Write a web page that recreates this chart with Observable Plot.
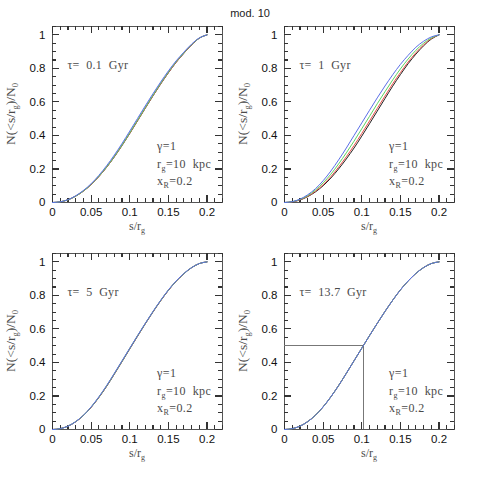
<!DOCTYPE html>
<html><head><meta charset="utf-8">
<script src="https://cdn.jsdelivr.net/npm/d3@7"></script>
<script src="https://cdn.jsdelivr.net/npm/@observablehq/plot@0.6"></script>
<style>
body{margin:0;background:#fff;width:479px;height:479px;position:relative;overflow:hidden}
#title{position:absolute;left:0;width:500px;top:7px;text-align:center;font:11px "Liberation Sans",Arial,sans-serif;color:#222}
.panel{position:absolute}
</style></head><body>
<div id="title">mod. 10</div>
<div id="p0" class="panel" style="left:0;top:0"></div>
<div id="p1" class="panel" style="left:232px;top:0"></div>
<div id="p2" class="panel" style="left:0;top:227px"></div>
<div id="p3" class="panel" style="left:232px;top:227px"></div>
<script>
// s/r_g sample positions
const sGrid = [0, 0.01, 0.02, 0.03, 0.04, 0.05, 0.06, 0.07, 0.08, 0.09, 0.10, 0.11, 0.12, 0.13, 0.14, 0.15, 0.16, 0.17, 0.18, 0.19, 0.20];

const panelTimes = ["0.1", "1", "5", "13.7"];
const seriesNames = ["black", "red", "green", "blue"];
const seriesColors = ["#222222", "#e8504a", "#5fd35f", "#5a6ee8"];

// tau = 0.1 Gyr
const t01_black = [0, .004, .016, .038, .068, .107, .155, .210, .272, .340, .412, .487, .562, .636, .707, .774, .836, .890, .940, .980, 1];
const t01_red   = [0, .004, .016, .038, .068, .107, .155, .210, .273, .341, .413, .488, .563, .637, .708, .775, .837, .891, .941, .981, 1];
const t01_green = [0, .004, .016, .038, .069, .108, .157, .212, .275, .343, .416, .491, .566, .640, .711, .778, .840, .893, .942, .981, 1];
const t01_blue  = [0, .004, .017, .040, .072, .112, .162, .219, .283, .352, .426, .501, .576, .649, .719, .785, .845, .897, .945, .982, 1];
// tau = 1 Gyr
const t1_black = [0, .004, .015, .035, .063, .100, .146, .200, .260, .325, .396, .470, .545, .620, .694, .763, .828, .885, .935, .975, 1];
const t1_red   = [0, .004, .016, .037, .067, .106, .154, .211, .273, .340, .412, .486, .561, .635, .708, .775, .838, .893, .940, .978, 1];
const t1_green = [0, .005, .018, .041, .074, .117, .169, .230, .296, .366, .440, .514, .589, .661, .731, .797, .856, .908, .950, .982, 1];
const t1_blue  = [0, .005, .020, .046, .082, .130, .188, .254, .325, .400, .475, .550, .624, .695, .762, .824, .878, .926, .962, .988, 1];
// tau = 5 Gyr
const t5_black = [0, .005, .020, .046, .083, .132, .191, .257, .330, .405, .481, .556, .630, .701, .768, .830, .884, .929, .965, .990, 1];
const t5_red   = [0, .005, .020, .046, .084, .133, .192, .259, .332, .407, .483, .558, .631, .702, .769, .831, .885, .930, .966, .990, 1];
const t5_green = [0, .005, .020, .047, .084, .134, .193, .260, .333, .408, .484, .559, .632, .703, .770, .832, .885, .930, .966, .990, 1];
const t5_blue  = [0, .005, .020, .047, .085, .135, .195, .262, .335, .410, .485, .560, .633, .704, .771, .833, .886, .931, .966, .990, 1];
// tau = 13.7 Gyr
const t137_black = [0, .005, .020, .047, .085, .135, .195, .262, .335, .410, .485, .560, .633, .704, .771, .833, .886, .931, .966, .990, 1];
const t137_red   = [0, .005, .020, .047, .085, .135, .195, .262, .335, .410, .485, .560, .633, .704, .771, .833, .886, .931, .966, .990, 1];
const t137_green = [0, .005, .020, .047, .085, .135, .195, .262, .335, .410, .485, .560, .633, .704, .771, .833, .886, .931, .966, .990, 1];
const t137_blue  = [0, .005, .020, .047, .085, .135, .195, .262, .335, .410, .485, .560, .633, .704, .771, .833, .886, .931, .966, .990, 1];

const panelSeries = [
  [t01_black, t01_red, t01_green, t01_blue],
  [t1_black, t1_red, t1_green, t1_blue],
  [t5_black, t5_red, t5_green, t5_blue],
  [t137_black, t137_red, t137_green, t137_blue]
];

// half-mass radius marked in the last panel
const halfMassS = 0.102;
const halfMassN = 0.5;

const xMajor = [0, 0.05, 0.1, 0.15, 0.2];
const xMinor = [0.01, 0.02, 0.03, 0.04, 0.06, 0.07, 0.08, 0.09, 0.11, 0.12, 0.13, 0.14, 0.16, 0.17, 0.18, 0.19, 0.21, 0.22];
const yMajor = [0, 0.2, 0.4, 0.6, 0.8, 1];
const yMinor = [0.05, 0.1, 0.15, 0.25, 0.3, 0.35, 0.45, 0.5, 0.55, 0.65, 0.7, 0.75, 0.85, 0.9, 0.95, 1.05];
const paramLines = [["γ=1", null, ""], ["r", "g", "=10\u00a0 kpc"], ["x", "R", "=0.2"]];

const W = 240, H = 240, ML = 52, MR = 18, MT = 26, MB = 38;
const FH = H - MT - MB, FW = W - ML - MR;
const X0 = 0, X1 = 0.22, Y0 = 0, Y1 = 1.05;
const frameColor = "#555555";
const tickColor = "#333333";
const textColor = "#4a4a4a";
const serif = "'Liberation Serif','DejaVu Serif',serif";
const minorLen = 4, majorLen = 7;

function fmt(v){ return String(+v.toFixed(2)); }

panelSeries.forEach((series, pi) => {
  const marks = [];
  marks.push(Plot.frame({stroke: frameColor, strokeWidth: 1, fill: "none", shapeRendering: "crispEdges"}));
  // ticks inward on all four sides (lengths in pixels via insets)
  const tickOpts = {stroke: tickColor, strokeWidth: 1.1, shapeRendering: "crispEdges"};
  marks.push(Plot.tickX(xMinor, {x: d => d, insetTop: FH - minorLen, ...tickOpts}));
  marks.push(Plot.tickX(xMinor, {x: d => d, insetBottom: FH - minorLen, ...tickOpts}));
  marks.push(Plot.tickX(xMajor, {x: d => d, insetTop: FH - majorLen, ...tickOpts}));
  marks.push(Plot.tickX(xMajor, {x: d => d, insetBottom: FH - majorLen, ...tickOpts}));
  marks.push(Plot.tickY(yMinor, {y: d => d, insetRight: FW - minorLen, ...tickOpts}));
  marks.push(Plot.tickY(yMinor, {y: d => d, insetLeft: FW - minorLen, ...tickOpts}));
  marks.push(Plot.tickY(yMajor, {y: d => d, insetRight: FW - majorLen, ...tickOpts}));
  marks.push(Plot.tickY(yMajor, {y: d => d, insetLeft: FW - majorLen, ...tickOpts}));
  marks.push(Plot.axisX({ticks: xMajor, tickSize: 0, tickPadding: 5, tickFormat: fmt, label: null, fontSize: 11.5, fill: "#111"}));
  marks.push(Plot.axisY({ticks: yMajor, tickSize: 0, tickPadding: 7, tickFormat: fmt, label: null, fontSize: 11.5, fill: "#111"}));
  if (pi === 3) {
    marks.push(Plot.ruleY([halfMassN], {y: d => d, x1: 0, x2: halfMassS, stroke: "#777", strokeWidth: 1, shapeRendering: "crispEdges"}));
    marks.push(Plot.ruleX([halfMassS], {x: d => d, y1: 0, y2: halfMassN, stroke: "#777", strokeWidth: 1, shapeRendering: "crispEdges"}));
  }
  series.forEach((vals, si) => {
    const data = sGrid.map((s, i) => ({s, n: vals[i], name: seriesNames[si]}));
    marks.push(Plot.line(data, {x: "s", y: "n", stroke: seriesColors[si], strokeWidth: 1, curve: "monotone-x"}));
  });
  const plot = Plot.plot({
    width: W, height: H, marginLeft: ML, marginRight: MR, marginTop: MT, marginBottom: MB,
    x: {domain: [X0, X1]}, y: {domain: [Y0, Y1]},
    style: {fontFamily: "'Liberation Sans',Arial,sans-serif", fontSize: "12px", background: "transparent", overflow: "visible"},
    marks
  });
  document.getElementById("p" + pi).appendChild(plot);
  const sx = plot.scale("x"), sy = plot.scale("y");
  const svg = d3.select(plot);
  const g = svg.append("g").attr("font-family", serif).attr("fill", textColor).attr("font-size", 12).attr("text-anchor", "start");
  g.append("text").attr("x", sx.apply(0.02)).attr("y", sy.apply(0.795)).attr("letter-spacing", "0.3px")
    .text("τ=\u00a0 " + panelTimes[pi] + "\u00a0 Gyr");
  const pys = [0.31, 0.205, 0.10];
  paramLines.forEach((pl, li) => {
    const t = g.append("text").attr("x", sx.apply(0.136)).attr("y", sy.apply(pys[li])).attr("letter-spacing", "0.4px");
    t.append("tspan").text(pl[0]);
    if (pl[1]) {
      t.append("tspan").text(pl[1]).attr("font-size", 8).attr("dy", 3);
      t.append("tspan").text(pl[2]).attr("dy", -3);
    }
  });
  const xl = g.append("text").attr("x", ML + FW / 2).attr("y", H - 10).attr("text-anchor", "middle");
  xl.append("tspan").text("s/r");
  xl.append("tspan").text("g").attr("font-size", 8).attr("dy", 3);
  const yl = g.append("text").attr("transform", `translate(15,${MT + FH / 2}) rotate(-90)`).attr("text-anchor", "middle").attr("font-size", 13.5);
  yl.append("tspan").text("N(<s/r");
  yl.append("tspan").text("g").attr("font-size", 8.5).attr("dy", 3);
  yl.append("tspan").text(")/N").attr("dy", -3);
  yl.append("tspan").text("0").attr("font-size", 8.5).attr("dy", 3);
});
</script>
</body></html>
